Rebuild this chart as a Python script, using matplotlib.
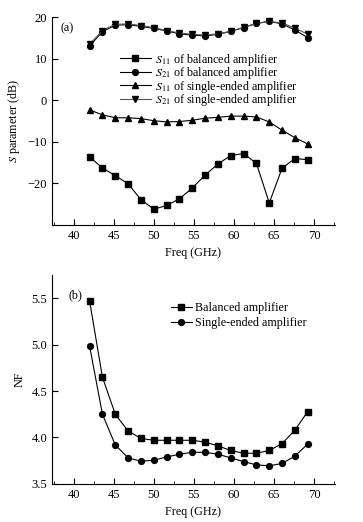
import matplotlib
matplotlib.use("Agg")
import matplotlib.pyplot as plt
from matplotlib.ticker import MultipleLocator, FormatStrFormatter

plt.rcParams["font.family"] = ["Liberation Serif", "DejaVu Serif"]
plt.rcParams["mathtext.fontset"] = "stix"
plt.rcParams["font.size"] = 8.7

freq = [42, 43.6, 45.2, 46.8, 48.4, 50, 51.6, 53.2, 54.8, 56.4, 58, 59.6,
        61.2, 62.8, 64.4, 66, 67.6, 69.2]

s11_bal = [-13.6, -16.3, -18.1, -20.1, -23.9, -26.2, -25.3, -23.7, -21.1, -18.0,
           -15.3, -13.3, -12.8, -15.2, -24.7, -16.3, -14.0, -14.3]
s21_bal = [13.1, 16.5, 18.1, 18.2, 17.8, 17.3, 16.7, 16.0, 15.7, 15.5,
           15.9, 16.6, 17.5, 18.5, 19.0, 18.4, 16.9, 15.1]
s11_se = [-2.3, -3.5, -4.2, -4.2, -4.4, -4.9, -5.2, -5.1, -4.8, -4.3,
          -4.1, -3.8, -3.8, -4.0, -5.2, -7.2, -9.0, -10.5]
s21_se = [13.5, 16.8, 18.3, 18.4, 18.0, 17.5, 16.8, 16.2, 15.9, 15.7,
          16.0, 16.6, 17.6, 18.5, 19.0, 18.6, 17.4, 15.9]

nf_bal = [5.47, 4.65, 4.25, 4.07, 3.99, 3.97, 3.97, 3.97, 3.97, 3.95,
          3.91, 3.86, 3.83, 3.83, 3.86, 3.935, 4.08, 4.28]
nf_se = [4.985, 4.25, 3.92, 3.78, 3.745, 3.755, 3.79, 3.82, 3.84, 3.84,
         3.82, 3.78, 3.74, 3.705, 3.695, 3.72, 3.80, 3.93]


def style_axis(ax):
    for side in ["top", "right"]:
        ax.spines[side].set_visible(False)
    ax.spines["left"].set_linewidth(0.8)
    ax.spines["bottom"].set_linewidth(0.8)
    ax.xaxis.set_major_locator(MultipleLocator(5))
    ax.xaxis.set_minor_locator(MultipleLocator(2.5))
    ax.tick_params(which="major", direction="in", length=4, width=0.8)
    ax.tick_params(which="minor", direction="in", length=2, width=0.6)
    ax.tick_params(axis="both", labelsize=9)
    ax.set_xlim(37.3, 72.6)
    ax.set_xlabel("Freq (GHz)", fontsize=8.7)


fig = plt.figure(figsize=(3.63, 5.22), dpi=100)
ax1 = fig.add_axes([0.143, 0.569, 0.78, 0.398])
ax2 = fig.add_axes([0.143, 0.073, 0.78, 0.40])

lw, ms = 0.8, 4.2
ax1.plot(freq, s11_bal, "-s", color="black", lw=lw, ms=ms, label="$S_{11}$ of balanced amplifier")
ax1.plot(freq, s21_bal, "-o", color="black", lw=lw, ms=ms, label="$S_{21}$ of balanced amplifier")
ax1.plot(freq, s11_se, "-^", color="black", lw=lw, ms=ms, label="$S_{11}$ of single-ended amplifier")
ax1.plot(freq, s21_se, "-v", color="#555555", mfc="black", mec="black", lw=lw, ms=ms,
         label="$S_{21}$ of single-ended amplifier")
style_axis(ax1)
ax1.set_ylim(-30, 20)
ax1.set_yticks([-20, -10, 0, 10, 20])
ax1.set_ylabel("$S$ parameter (dB)", fontsize=8.7)
ax1.text(0.03, 0.93, "(a)", transform=ax1.transAxes, fontsize=8.7)
ax1.legend(loc="upper left", bbox_to_anchor=(0.24, 0.835), frameon=False, fontsize=8.7,
           handlelength=2.55, handletextpad=0.35, labelspacing=-0.2, borderpad=0, borderaxespad=0)

ax2.plot(freq, nf_bal, "-s", color="black", lw=lw, ms=ms, label="Balanced amplifier")
ax2.plot(freq, nf_se, "-o", color="black", lw=lw, ms=ms, label="Single-ended amplifier")
style_axis(ax2)
ax2.set_ylim(3.5, 5.75)
ax2.set_yticks([3.5, 4.0, 4.5, 5.0, 5.5])
ax2.yaxis.set_major_formatter(FormatStrFormatter("%.1f"))
ax2.set_ylabel("NF", fontsize=8.7)
ax2.text(0.06, 0.89, "(b)", transform=ax2.transAxes, fontsize=8.7)
ax2.legend(loc="upper left", bbox_to_anchor=(0.42, 0.872), frameon=False, fontsize=8.7,
           handlelength=1.75, handletextpad=0.25, labelspacing=0.3, borderpad=0, borderaxespad=0)

fig.savefig("out.png", dpi=100)
